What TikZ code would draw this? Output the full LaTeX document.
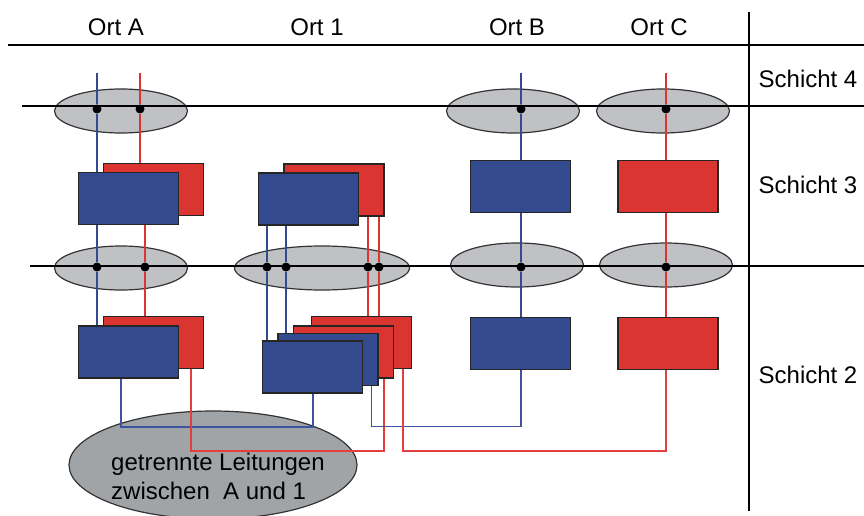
\documentclass[tikz,border=0pt]{standalone}
\usepackage{fontspec}
\setmainfont{Liberation Sans}
\usetikzlibrary{shapes.geometric,positioning}
\pgfdeclarelayer{back}
\pgfdeclarelayer{wires}
\pgfsetlayers{back,wires,main}
\definecolor{boxblue}{RGB}{52,74,143}
\definecolor{boxred}{RGB}{219,53,50}
\definecolor{linkblue}{RGB}{62,84,162}
\definecolor{linkred}{RGB}{226,62,60}
\definecolor{cloudgray}{RGB}{192,193,196}
\definecolor{notegray}{RGB}{161,164,167}

\begin{document}
\begin{tikzpicture}[x=1pt,y=-1pt,font=\fontsize{24}{29}\selectfont]
  \tikzstyle{bluebox}=[rectangle,draw=black!85,line width=1.5pt,fill=boxblue,minimum width=100pt,minimum height=52pt,inner sep=0pt]
  \tikzstyle{redbox}=[bluebox,fill=boxred]
  \tikzstyle{cloud}=[ellipse,draw=black!80,line width=1.2pt,fill=cloudgray,inner sep=0pt,minimum width=133pt,minimum height=44pt]
  \tikzstyle{dot}=[circle,fill=black,inner sep=0pt,minimum size=9pt]
  \tikzstyle{rule}=[line width=2.6pt]
  \tikzstyle{bluewire}=[draw=boxblue,line width=2pt]
  \tikzstyle{redwire}=[draw=boxred,line width=2pt]
  \tikzstyle{bluelink}=[draw=linkblue,line width=1.5pt]
  \tikzstyle{redlink}=[draw=linkred,line width=1.8pt]
\useasboundingbox (0,0) rectangle (864,516);

% Kopfzeile und Schichten
\node[anchor=base] (ortA) at (116,36) {Ort A};
\node[anchor=base] (ort1) at (317,36) {Ort 1};
\node[anchor=base] (ortB) at (517,36) {Ort B};
\node[anchor=base] (ortC) at (659,36) {Ort C};
\node[anchor=base] (s4) at (808,88) {Schicht 4};
\node[anchor=base] (s3) at (808,193) {Schicht 3};
\node[anchor=base] (s2) at (808,383) {Schicht 2};

% Uebergaenge
\begin{pgfonlayer}{back}
\node[cloud] (eA4) at (121,111) {};
\node[cloud] (eB4) at (513,111) {};
\node[cloud] (eC4) at (663,111) {};
\node[cloud] (eA3) at (121,268) {};
\node[cloud,minimum width=175pt] (e13) at (322,268) {};
\node[cloud] (eB3) at (517,265) {};
\node[cloud] (eC3) at (666,265) {};
\node[ellipse,draw=black!80,line width=1.2pt,fill=notegray,minimum width=288pt,minimum height=108pt] (note) at (213,465) {};
\end{pgfonlayer}
\node[anchor=west,align=left,inner sep=0pt] (noteText) at (111,476) {getrennte Leitungen\\zwischen~ A und 1};

% Schicht 3
\node[redbox] (r3A) at (153.5,189.5) {};
\node[bluebox] (b3A) at (128.5,198.5) {};
\node[redbox] (r31) at (334,190) {};
\node[bluebox] (b31) at (308.5,199) {};
\node[bluebox] (b3B) at (520.5,186.5) {};
\node[redbox] (r3C) at (668,186.5) {};

% Schicht 2
\node[redbox] (r2A) at (153.5,342.5) {};
\node[bluebox] (b2A) at (128.5,352) {};
\node[redbox] (r21) at (361.5,342.5) {};
\node[redbox] (r21m) at (343.5,352) {};
\node[bluebox] (b21m) at (328,359.5) {};
\node[bluebox] (b21) at (312.5,367) {};
\node[bluebox] (b2B) at (520.5,343.5) {};
\node[redbox] (r2C) at (668,343.5) {};

% Anschlusspunkte
\node[dot] (dA4b) at (97,109) {};
\node[dot] (dA4r) at (140,109) {};
\node[dot] (dB4) at (521,109) {};
\node[dot] (dC4) at (666,109) {};
\node[dot] (dA3b) at (97,267) {};
\node[dot] (dA3r) at (145,267) {};
\node[dot] (d13a) at (267,267) {};
\node[dot] (d13b) at (286,267) {};
\node[dot] (d13c) at (368,267) {};
\node[dot] (d13d) at (379,267) {};
\node[dot] (dB3) at (521,267) {};
\node[dot] (dC3) at (666,267) {};

\coordinate (tA1) at (97,73);
\coordinate (tA2) at (140,73);
\coordinate (tB) at (521,73);
\coordinate (tC) at (666,73);

\begin{pgfonlayer}{wires}
\draw[rule] (8,45) -- (864,45);
\draw[rule] (22,106) -- (864,106);
\draw[line width=1.3pt] (30,266) -- (864,266);
\draw[line width=2.4pt] (749,12) -- (749,511);

\draw[bluewire] (tA1) -- (dA4b) -- (dA3b) -- (dA3b |- b2A.north);
\draw[redwire] (tA2) -- (dA4r) -- (dA4r |- r3A.north);
\draw[redwire] (dA3r |- r3A.south) -- (dA3r) -- (dA3r |- r2A.north);
\draw[bluewire] (d13a |- b31.south) -- (d13a) -- (d13a |- b21.north);
\draw[bluewire] (d13b |- b31.south) -- (d13b) -- (d13b |- b21m.north);
\draw[redwire] (d13c |- r31.south) -- (d13c) -- (d13c |- r21m.north);
\draw[redwire] (d13d |- r31.south) -- (d13d) -- (d13d |- r21.north);
\draw[bluewire] (tB) -- (dB4) -- (dB4 |- b3B.north);
\draw[bluewire] (dB3 |- b3B.south) -- (dB3) -- (dB3 |- b2B.north);
\draw[redwire] (tC) -- (dC4) -- (dC4 |- r3C.north);
\draw[redwire] (dC3 |- r3C.south) -- (dC3) -- (dC3 |- r2C.north);

% getrennte Leitungen
\draw[bluelink] ([xshift=-7.5pt]b2A.south) -- ++(0,48) -| ([xshift=.5pt]b21.south);
\draw[redlink] ([xshift=37.5pt]r2A.south) -- ++(0,82) -| ([xshift=40.5pt]r21m.south);
\draw[bluelink] ([xshift=43.5pt]b21m.south) -- ++(0,40) -| ([xshift=.5pt]b2B.south);
\draw[redlink] ([xshift=41.5pt]r21.south) -- ++(0,82) -| ([xshift=-2pt]r2C.south);
\end{pgfonlayer}
\end{tikzpicture}
\end{document}
